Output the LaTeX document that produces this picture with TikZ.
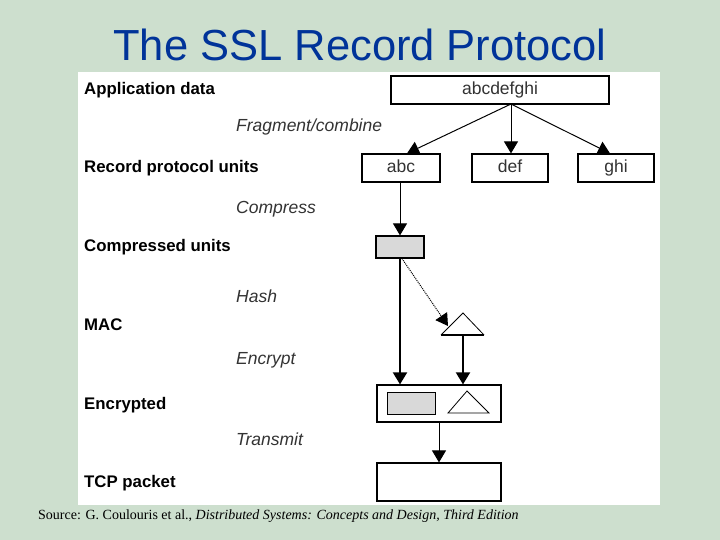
\documentclass[tikz,border=0pt]{standalone}
\usepackage{fontspec}
\setmainfont{Liberation Serif}
\setsansfont{Liberation Sans}
\usetikzlibrary{calc,arrows.meta}
\definecolor{slidebg}{RGB}{205,223,206}
\definecolor{titleblue}{RGB}{0,51,153}
\definecolor{unitgray}{RGB}{217,217,217}
\tikzset{
  stage/.style={anchor=west,inner sep=0pt,font=\sffamily\bfseries\fontsize{16.8}{18}\selectfont},
  action/.style={anchor=west,inner sep=0pt,text=black!80,font=\sffamily\itshape\fontsize{17.5}{19}\selectfont},
  unit/.style={draw,line width=1.2pt,inner sep=0pt,text height=12pt,text depth=3pt,text=black!80,font=\sffamily\fontsize{17.5}{19}\selectfont},
}
\begin{document}
\begin{tikzpicture}[x=1pt,y=-1pt,>={Triangle[length=12pt,width=14pt]}]
        \useasboundingbox (0,0) rectangle (720,540);
        \fill[slidebg] (0,0) rectangle (720,540);
        \fill[white] (78,72) rectangle (660,505);
        \node[text=titleblue,font=\sffamily\fontsize{43.5}{48}\selectfont] (title) at (360,45) {The SSL Record Protocol};
        % layer names on the left
        \node[stage] (lapp) at (84,90) {Application data};
        \node[stage] (lrec) at (84,168) {Record protocol units};
        \node[stage] (lcmp) at (84,247) {Compressed units};
        \node[stage] (lmac) at (84,325) {MAC};
        \node[stage] (lenc) at (84,405) {Encrypted};
        \node[stage] (ltcp) at (84,483) {TCP packet};
        \node[action] (afrag) at (236,127) {Fragment/combine};
        \node[action] (acomp) at (236,209) {Compress};
        \node[action] (ahash) at (236,296) {Hash};
        \node[action] (aencr) at (236,360) {Encrypt};
        \node[action] (atran) at (236,439) {Transmit};
        % data units
        \node[unit,minimum width=218,minimum height=28] (app) at (500,90) {abcdefghi};
        \node[unit,minimum width=78,minimum height=28] (abc) at (401,168) {abc};
        \node[unit,minimum width=76,minimum height=28] (def) at (510,168) {def};
        \node[unit,minimum width=76,minimum height=28] (ghi) at (616,168) {ghi};
        \node[unit,fill=unitgray,minimum width=48,minimum height=22] (cmp) at (400,247) {};
        \coordinate (split) at (511,104);
        \draw[->,line width=1pt] (split) -- ($(abc.north)+(6,0)$);
        \draw[->,line width=1pt] (split) -- (split |- def.north);
        \draw[->,line width=1pt] (split) -- ($(ghi.north)+(-6,0)$);
        \draw[->,line width=1pt] (abc.south -| cmp.north) -- (cmp.north);
        % MAC
        \coordinate (mactop) at (463,313);
        \coordinate (macl) at (441,335);
        \coordinate (macr) at (484,335);
        \coordinate (mac) at (463,335);
        \draw[line width=0.8pt] (macl) -- (mactop) -- (macr);
        \draw[line width=2pt] (macl) -- (macr);
        \draw[->,densely dotted,line width=1pt] ($(cmp.south)+(2,0)$) -- (448,326);
        % encrypted and packet
        \node[unit,minimum width=124,minimum height=37] (enc) at (439,403.5) {};
        \node[draw,line width=1pt,fill=unitgray,inner sep=0pt,minimum width=48,minimum height=22] (inner) at (411,403) {};
        \draw[line width=0.8pt] (448,413) -- (467,391) -- (489,413) -- cycle;
        \draw[->,line width=2pt] (cmp.south) -- (cmp.south |- enc.north);
        \draw[->,line width=2pt] (mac) -- (mac |- enc.north);
        \node[unit,minimum width=124,minimum height=38] (tcp) at (439,482) {};
        \draw[->,line width=1pt] (enc.south) -- (tcp.north);
        \node[anchor=west,inner sep=0pt,font=\fontsize{14}{16}\selectfont] (src) at (38,516) {Source: G. Coulouris et al., \textit{Distributed Systems: Concepts and Design, Third Edition}};
      \end{tikzpicture}
\end{document}
